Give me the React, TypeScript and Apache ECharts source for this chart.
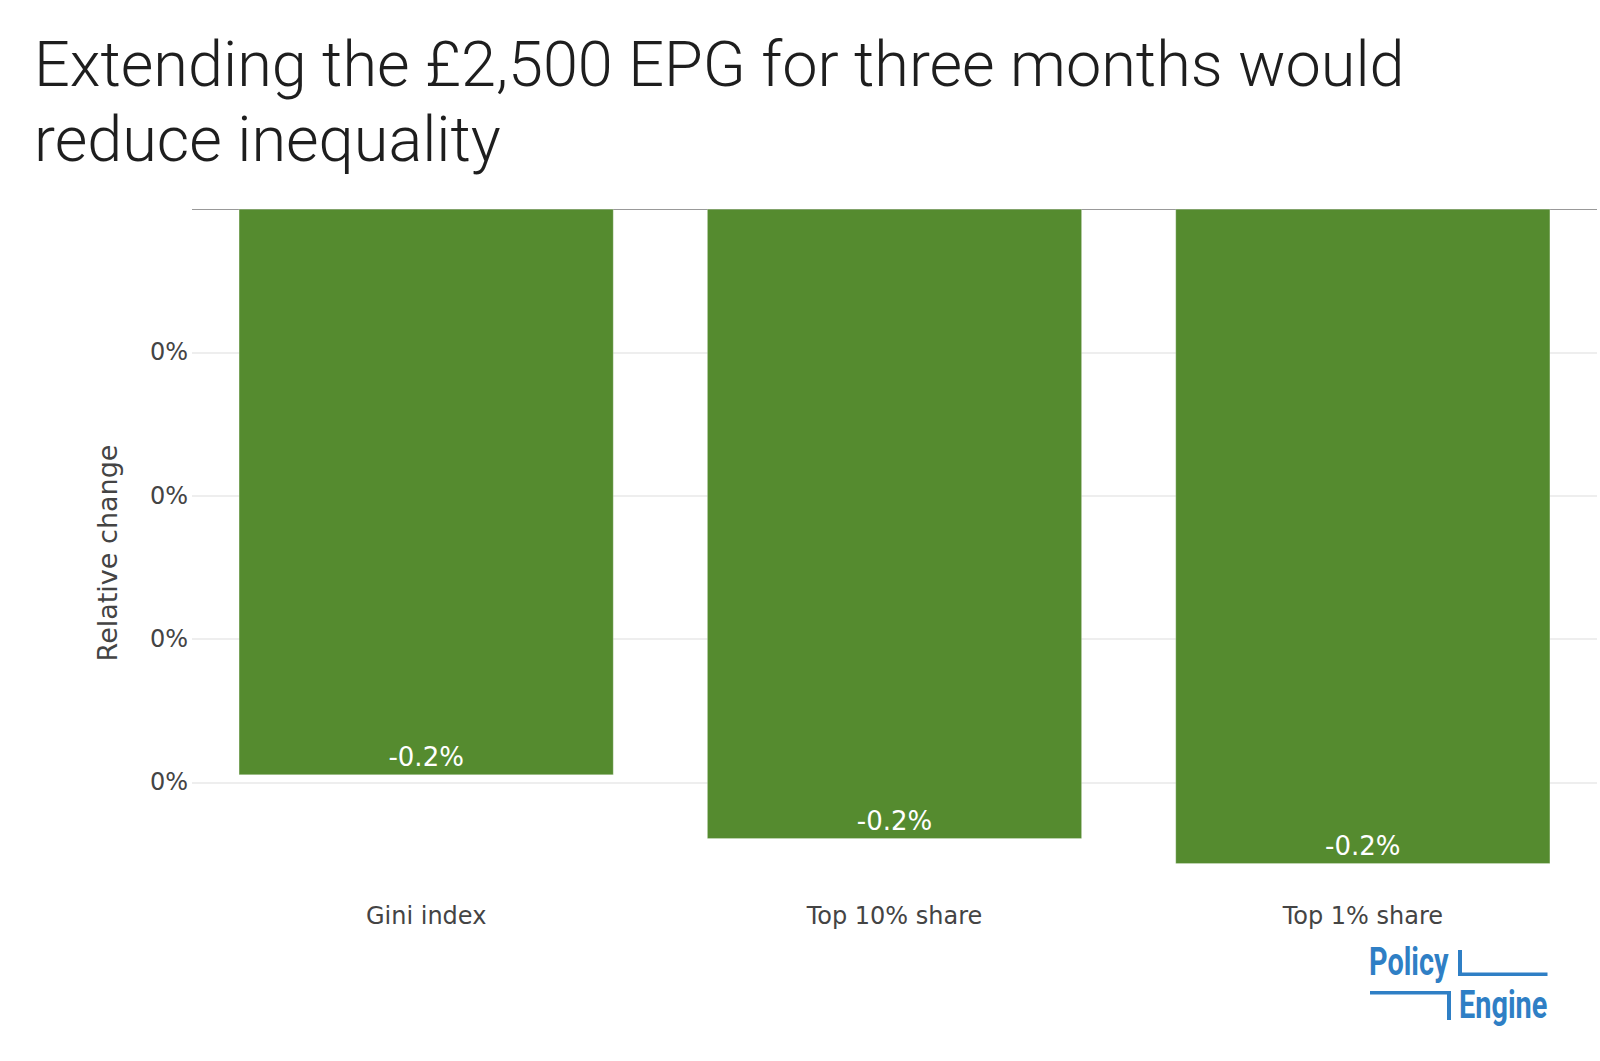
import React, { useEffect, useRef } from "react";
import * as echarts from "echarts";

// ---- data ----
const categories = ["Gini index", "Top 10% share", "Top 1% share"];
const relativeChange = [-0.001974, -0.002197, -0.002284];
const titleLines = ["Extending the £2,500 EPG for three months would", "reduce inequality"];
const yAxisTitle = "Relative change";
const logoWords = ["Policy", "Engine"];

const GREEN = "#558B2F";
const BLUE = "#2F7FC5";
const TICK_FONT = "'DejaVu Sans', Verdana, sans-serif";

function pctTick(v: number): string {
  const r = Math.round(v * 100);
  return (r === 0 ? 0 : r) + "%";
}

export default function App() {
  const ref = useRef<HTMLDivElement>(null);

  useEffect(() => {
    const chart = echarts.init(ref.current!, undefined, { renderer: "svg" });
    chart.setOption({
      animation: false,
      backgroundColor: "#ffffff",
      title: {
        text: titleLines.join("\n"),
        left: 34,
        top: 27,
        padding: 0,
        textStyle: {
          fontFamily: "Roboto",
          fontWeight: 300,
          fontSize: 63,
          lineHeight: 75,
          color: "#1e1e1e",
        },
      },
      grid: { left: 192, right: 3, top: 209, bottom: 164, containLabel: false },
      xAxis: {
        type: "category",
        data: categories,
        axisLine: { show: false, onZero: false },
        axisTick: { show: false },
        splitLine: { show: false },
        axisLabel: {
          fontFamily: TICK_FONT,
          fontSize: 24,
          color: "#444",
          margin: 7,
        },
      },
      yAxis: {
        type: "value",
        min: -0.0024,
        max: 0,
        splitNumber: 5,
        name: yAxisTitle,
        nameLocation: "middle",
        nameGap: 71,
        nameTextStyle: { fontFamily: TICK_FONT, fontSize: 27, color: "#444" },
        axisLine: { show: false },
        axisTick: { show: false },
        axisLabel: {
          fontFamily: TICK_FONT,
          fontSize: 24,
          color: "#444",
          margin: 4,
          showMinLabel: false,
          showMaxLabel: false,
          formatter: (v: number) => pctTick(v),
        },
        splitLine: {
          show: true,
          showMinLine: false,
          showMaxLine: false,
          lineStyle: { color: "#e8e8e8", width: 1.5 },
        },
      },
      series: [
        {
          type: "bar",
          data: relativeChange,
          barCategoryGap: "20%",
          itemStyle: { color: GREEN, borderColor: "rgba(255,255,255,0.5)", borderWidth: 0.5 },
          label: {
            show: true,
            position: "insideBottom",
            distance: 5,
            fontFamily: TICK_FONT,
            fontSize: 26,
            color: "#ffffff",
            formatter: (p: any) => (p.value * 100).toFixed(1) + "%",
          },
          markLine: {
            silent: true,
            symbol: "none",
            label: { show: false },
            lineStyle: { color: "#999999", width: 1, type: "solid" },
            data: [{ yAxis: 0 }],
            z: 1,
          },
          z: 2,
        },
      ],
      graphic: [
        {
          type: "group",
          children: [
            {
              type: "text",
              x: 1369,
              y: 962.5,
              scaleX: 0.76,
              style: {
                text: logoWords[0],
                fontFamily: "Roboto",
                fontWeight: "bold",
                fontSize: 38,
                fill: BLUE,
                verticalAlign: "middle",
                align: "left",
              },
            },
            {
              type: "text",
              x: 1459,
              y: 1005.5,
              scaleX: 0.76,
              style: {
                text: logoWords[1],
                fontFamily: "Roboto",
                fontWeight: "bold",
                fontSize: 38,
                fill: BLUE,
                verticalAlign: "middle",
                align: "left",
              },
            },
            { type: "rect", shape: { x: 1458, y: 950, width: 4, height: 26 }, style: { fill: BLUE } },
            { type: "rect", shape: { x: 1458, y: 972.5, width: 89.5, height: 3.5 }, style: { fill: BLUE } },
            { type: "rect", shape: { x: 1370, y: 991, width: 81, height: 3.5 }, style: { fill: BLUE } },
            { type: "rect", shape: { x: 1447, y: 991, width: 4, height: 29 }, style: { fill: BLUE } },
          ],
        },
      ],
    });
    return () => chart.dispose();
  }, []);

  return (
    <div
      ref={ref}
      style={{ position: "absolute", left: 0, top: 0, width: 1600, height: 1061, background: "#fff" }}
    />
  );
}
